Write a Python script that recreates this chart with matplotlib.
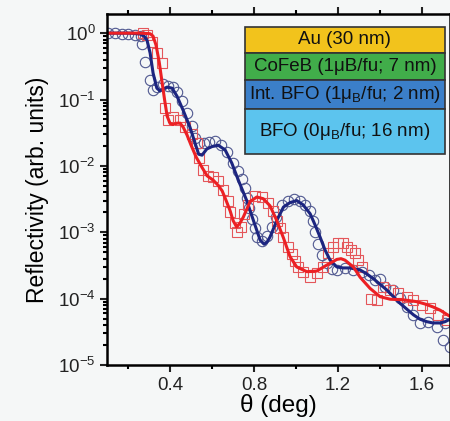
import matplotlib
matplotlib.use("Agg")
import matplotlib.pyplot as plt
from matplotlib.patches import Rectangle
from matplotlib.ticker import MultipleLocator, LogLocator, NullFormatter

plt.rcParams['font.family'] = ['Liberation Sans', 'DejaVu Sans']
plt.rcParams['mathtext.fontset'] = 'custom'
plt.rcParams['mathtext.rm'] = 'Liberation Sans'
plt.rcParams['mathtext.it'] = 'Liberation Sans:italic'

# measured data (blue circles, red squares)
blue_x = [0.105, 0.138, 0.171, 0.2, 0.233, 0.262, 0.267, 0.281, 0.305, 0.319, 0.338, 0.367,
          0.39, 0.414, 0.433, 0.457, 0.481, 0.505, 0.519, 0.538, 0.562, 0.586, 0.614, 0.643,
          0.671, 0.7, 0.724, 0.743, 0.757, 0.767, 0.776, 0.79, 0.805, 0.814, 0.838, 0.862,
          0.886, 0.905, 0.933, 0.962, 0.99, 1.019, 1.043, 1.067, 1.081, 1.09, 1.105, 1.124,
          1.148, 1.171, 1.195, 1.233, 1.271, 1.314, 1.348, 1.376, 1.4, 1.424, 1.462, 1.495,
          1.529, 1.557, 1.59, 1.629, 1.671, 1.7, 1.71, 1.733]
blue_y = [1.0, 1.0, 0.97, 0.97, 0.93, 0.90, 0.68, 0.37, 0.195, 0.138, 0.154, 0.17,
          0.16, 0.154, 0.13, 0.095, 0.063, 0.04, 0.026, 0.022, 0.022, 0.023, 0.0235, 0.021,
          0.016, 0.011, 0.0083, 0.0063, 0.0047, 0.0033, 0.0023, 0.0016, 0.00115, 8.5e-4, 7.4e-4, 8.7e-4,
          0.0012, 0.0017, 0.0026, 0.0030, 0.0032, 0.0030, 0.0026, 0.0021, 0.0015, 0.001, 6.6e-4, 4.6e-4,
          3.5e-4, 2.8e-4, 2.7e-4, 2.9e-4, 2.7e-4, 2.5e-4, 2.3e-4, 1.9e-4, 2.0e-4, 1.5e-4, 1.35e-4, 1.02e-4,
          7.5e-5, 5.7e-5, 4.3e-5, 4.5e-5, 3.7e-5, 2.4e-5, 4.3e-5, 1.9e-5]

red_x = [0.271, 0.29, 0.314, 0.338, 0.362, 0.376, 0.39, 0.414, 0.448, 0.471, 0.505, 0.529,
         0.538, 0.557, 0.581, 0.605, 0.629, 0.652, 0.676, 0.686, 0.71, 0.719, 0.738, 0.752,
         0.771, 0.805, 0.838, 0.867, 0.89, 0.91, 0.924, 0.938, 0.962, 0.981, 0.995, 1.01,
         1.033, 1.067, 1.1, 1.129, 1.152, 1.176, 1.2, 1.224, 1.243, 1.262, 1.281, 1.295,
         1.314, 1.357, 1.386, 1.414, 1.448, 1.486, 1.529, 1.557, 1.6, 1.638, 1.676, 1.719]
red_y = [1.0, 0.93, 0.73, 0.50, 0.35, 0.074, 0.049, 0.054, 0.049, 0.038, 0.030, 0.022,
         0.013, 0.0087, 0.0071, 0.0068, 0.0059, 0.0044, 0.0030, 0.0020, 0.0014, 0.0010, 0.0012, 0.0019,
         0.0026, 0.0035, 0.0034, 0.0028, 0.0021, 0.0015, 0.00115, 8.5e-4, 6.0e-4, 4.7e-4, 3.7e-4, 3.0e-4,
         2.5e-4, 2.1e-4, 2.4e-4, 3.0e-4, 4.9e-4, 6.0e-4, 6.9e-4, 6.9e-4, 6.0e-4, 5.4e-4, 4.9e-4, 3.8e-4,
         3.0e-4, 9.8e-5, 9.5e-5, 1.5e-4, 1.35e-4, 1.2e-4, 1.05e-4, 9.5e-5, 8.0e-5, 7.2e-5, 5.7e-5, 4.8e-5]

# fits
blue_fit_x = [0.1, 0.21, 0.257, 0.276, 0.29, 0.305, 0.319, 0.337, 0.352, 0.367, 0.386, 0.41,
              0.433, 0.462, 0.495, 0.519, 0.536, 0.552, 0.575, 0.599, 0.629, 0.662, 0.694, 0.725,
              0.765, 0.797, 0.829, 0.848, 0.862, 0.876, 0.908, 0.94, 0.971, 1.003, 1.033, 1.067,
              1.09, 1.114, 1.138, 1.162, 1.194, 1.224, 1.257, 1.305, 1.333, 1.368, 1.432, 1.495,
              1.559, 1.59, 1.622, 1.652, 1.686, 1.71, 1.733]
blue_fit_y = [1.0, 1.0, 0.97, 0.90, 0.785, 0.50, 0.25, 0.148, 0.135, 0.144, 0.154, 0.148,
              0.112, 0.069, 0.038, 0.022, 0.015, 0.0145, 0.018, 0.0195, 0.0205, 0.0174, 0.011, 0.0061,
              0.0030, 0.0015, 7.6e-4, 6.6e-4, 7.1e-4, 8.5e-4, 0.0015, 0.0024, 0.0028, 0.0030, 0.0026, 0.0019,
              0.0013, 8.5e-4, 5.4e-4, 3.8e-4, 3.0e-4, 2.9e-4, 2.9e-4, 2.7e-4, 2.4e-4, 2.0e-4, 1.35e-4, 8.5e-5,
              5.7e-5, 4.9e-5, 4.5e-5, 4.3e-5, 4.3e-5, 4.5e-5, 4.9e-5]

red_fit_x = [0.1, 0.257, 0.305, 0.319, 0.333, 0.348, 0.362, 0.374, 0.386, 0.4, 0.414, 0.433,
             0.448, 0.463, 0.481, 0.5, 0.524, 0.551, 0.576, 0.605, 0.629, 0.648, 0.667, 0.686,
             0.7, 0.717, 0.733, 0.749, 0.781, 0.813, 0.844, 0.876, 0.908, 0.94, 0.971, 1.003,
             1.051, 1.098, 1.146, 1.194, 1.214, 1.233, 1.273, 1.305, 1.352, 1.4, 1.448, 1.511,
             1.575, 1.614, 1.652, 1.686, 1.733]
red_fit_y = [1.0, 1.0, 0.98, 0.90, 0.66, 0.37, 0.18, 0.098, 0.056, 0.0435, 0.042, 0.044,
             0.044, 0.038, 0.029, 0.0205, 0.0136, 0.0096, 0.0071, 0.0061, 0.0051, 0.0042, 0.0030, 0.0021,
             0.0015, 0.0012, 0.00138, 0.0017, 0.0029, 0.0034, 0.0032, 0.0025, 0.0015, 8.2e-4, 4.3e-4, 3.0e-4,
             2.55e-4, 2.6e-4, 3.2e-4, 3.9e-4, 4.0e-4, 3.8e-4, 3.0e-4, 2.1e-4, 1.43e-4, 1.07e-4, 9.8e-5, 9.6e-5,
             9.0e-5, 8.3e-5, 7.5e-5, 6.7e-5, 5.4e-5]

layer_labels = ["Au (30 nm)", "CoFeB (1\u03bcB/fu; 7 nm)",
                "Int. BFO (1\u03bc$_\\mathrm{B}$/fu; 2 nm)", "BFO (0\u03bc$_\\mathrm{B}$/fu; 16 nm)"]
layer_colors = ["#f2c31c", "#41ad4a", "#3b7fc9", "#5cc4ee"]
layer_edges = [0.936, 0.874, 0.810, 0.741, 0.634]   # figure fraction

bg = "#f5f7f7"
fig = plt.figure(figsize=(4.5, 4.21), dpi=100, facecolor=bg)
ax = fig.add_axes([0.238, 0.133, 0.762, 0.834], facecolor=bg)

ax.plot(blue_x, blue_y, 'o', ms=7.5, mfc='none', mec='#505890', mew=0.8)
ax.plot(red_x, red_y, 's', ms=6.5, mfc='none', mec='#e4565a', mew=0.8)
ax.plot(blue_fit_x, blue_fit_y, '-', color='#1c2580', lw=2.2)
ax.plot(red_fit_x, red_fit_y, '-', color='#ec2024', lw=2.2)

ax.set_yscale('log')
ax.set_xlim(0.1, 1.733)
ax.set_ylim(1e-5, 1.95)
ax.xaxis.set_major_locator(MultipleLocator(0.4))
ax.xaxis.set_minor_locator(MultipleLocator(0.2))
ax.xaxis.set_major_formatter(matplotlib.ticker.FormatStrFormatter('%.1f'))
ax.yaxis.set_major_locator(LogLocator(base=10, numticks=10))
ax.yaxis.set_minor_locator(LogLocator(base=10, subs=range(2, 10), numticks=20))
ax.yaxis.set_minor_formatter(NullFormatter())

for s in ['left', 'bottom', 'top', 'right']:
    ax.spines[s].set_linewidth(1.8)
ax.tick_params(which='both', direction='out', top=True, right=False, width=1.5)
ax.tick_params(which='major', length=5, labelsize=13.5, colors='#222222')
ax.tick_params(which='minor', length=3)

ax.set_xlabel("\u03b8 (deg)", fontsize=17.5, labelpad=0)
ax.set_ylabel("Reflectivity (arb. units)", fontsize=16.5, labelpad=6)

# layer stack inset
for i in range(len(layer_labels)):
    y0, y1 = layer_edges[i + 1], layer_edges[i]
    fig.patches.append(Rectangle((0.544, y0), 0.445, y1 - y0, transform=fig.transFigure,
                                 facecolor=layer_colors[i], edgecolor='#333333', lw=1.2, zorder=5))
    fig.text(0.7665, (y0 + y1) / 2, layer_labels[i], ha='center', va='center',
             fontsize=13.5, color='#111111', zorder=6)

fig.savefig("out.png", dpi=100, facecolor=bg)
